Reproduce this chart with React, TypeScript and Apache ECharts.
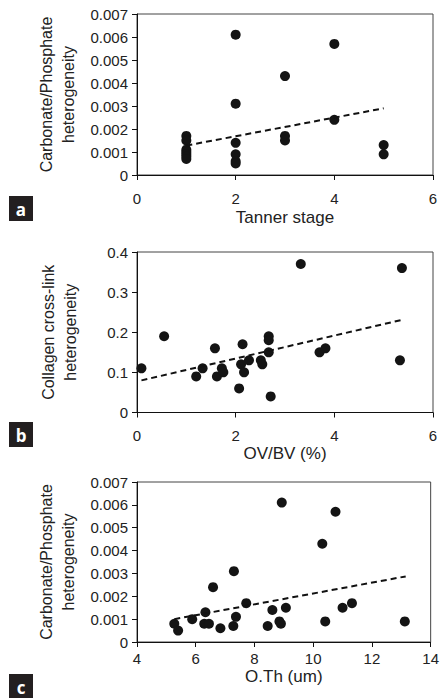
import React, { useEffect, useRef } from "react";
import * as echarts from "echarts";

// Panel a: Tanner stage vs Carbonate/Phosphate heterogeneity
const tannerStage = [1, 1, 1, 1, 1, 1, 1, 2, 2, 2, 2, 2, 2, 3, 3, 3, 4, 4, 5, 5];
const cpHetA = [
  0.0017, 0.0015, 0.0011, 0.001, 0.0009, 0.0008, 0.0007,
  0.0061, 0.0031, 0.0014, 0.0009, 0.0006, 0.0005,
  0.0043, 0.0017, 0.0015,
  0.0057, 0.0024,
  0.0013, 0.0009,
];
const trendAX = [1, 5];
const trendAY = [0.00128, 0.0029];

// Panel b: OV/BV (%) vs Collagen cross-link heterogeneity
const ovbv = [0.09, 0.55, 1.2, 1.33, 1.58, 1.62, 1.72, 1.75, 2.07, 2.11, 2.14, 2.17, 2.27, 2.51, 2.54, 2.67, 2.67, 2.67, 2.71, 3.32, 3.7, 3.82, 5.33, 5.37];
const cclHet = [0.11, 0.19, 0.09, 0.11, 0.16, 0.09, 0.11, 0.1, 0.06, 0.12, 0.17, 0.1, 0.13, 0.13, 0.12, 0.15, 0.19, 0.18, 0.04, 0.37, 0.15, 0.16, 0.13, 0.36];
const trendBX = [0.09, 5.41];
const trendBY = [0.08, 0.232];

// Panel c: O.Th (um) vs Carbonate/Phosphate heterogeneity
const oth = [5.27, 5.4, 5.88, 6.29, 6.33, 6.45, 6.59, 6.84, 7.28, 7.3, 7.37, 7.72, 8.45, 8.61, 8.85, 8.9, 8.93, 9.07, 10.31, 10.41, 10.76, 11.0, 11.32, 13.12];
const cpHetC = [0.0008, 0.0005, 0.001, 0.0008, 0.0013, 0.0008, 0.0024, 0.0006, 0.0007, 0.0031, 0.0011, 0.0017, 0.0007, 0.0014, 0.0009, 0.0008, 0.0061, 0.0015, 0.0043, 0.0009, 0.0057, 0.0015, 0.0017, 0.0009];
const trendCX = [5.27, 13.15];
const trendCY = [0.001, 0.00287];

const panelLetters = ["a", "b", "c"];
const xNames = ["Tanner stage", "OV/BV (%)", "O.Th (um)"];
const yNames = ["Carbonate/Phosphate\nheterogeneity", "Collagen cross-link\nheterogeneity", "Carbonate/Phosphate\nheterogeneity"];

const FONT = "Arial";
const TXT = "#222";

const zip = (xs: number[], ys: number[]) => xs.map((x, i) => [x, ys[i]]);

export default function App() {
  const ref = useRef<HTMLDivElement>(null);
  useEffect(() => {
    document.body.style.margin = "0";
    if (!ref.current) return;
    const chart = echarts.init(ref.current, undefined, { renderer: "svg" });

    const grids = [
      { left: 137, top: 14, width: 296, height: 161 },
      { left: 137, top: 252, width: 296, height: 160.5 },
      { left: 137, top: 482, width: 296, height: 160 },
    ].map((g) => ({ ...g, show: true, borderColor: "#444", borderWidth: 1, backgroundColor: "transparent" }));

    const xCfg = [
      { min: 0, max: 6, interval: 2, labelMargin: 16, nameGap: 32 },
      { min: 0, max: 6, interval: 2, labelMargin: 15, nameGap: 29 },
      { min: 4, max: 14, interval: 2, labelMargin: 9, nameGap: 23 },
    ];
    const yCfg = [
      { min: 0, max: 0.007, interval: 0.001, dec: 3 },
      { min: 0, max: 0.4, interval: 0.1, dec: 1 },
      { min: 0, max: 0.007, interval: 0.001, dec: 3 },
    ];

    const axisLine = { show: true, onZero: false, lineStyle: { color: "#111", width: 1 } };
    const axisTick = { show: true, inside: false, length: 5, lineStyle: { color: "#111" } };

    const xAxis = xCfg.map((c, i) => ({
      type: "value",
      gridIndex: i,
      min: c.min,
      max: c.max,
      interval: c.interval,
      axisLine,
      axisTick,
      splitLine: { show: false },
      axisLabel: { margin: c.labelMargin, fontSize: 15, color: TXT, fontFamily: FONT },
      name: xNames[i],
      nameLocation: "middle",
      nameGap: c.nameGap,
      nameTextStyle: { fontSize: 17, color: TXT, fontFamily: FONT, lineHeight: 20 },
    }));

    const yAxis = yCfg.map((c, i) => ({
      type: "value",
      gridIndex: i,
      min: c.min,
      max: c.max,
      interval: c.interval,
      axisLine,
      axisTick,
      splitLine: { show: false },
      axisLabel: {
        margin: 9,
        fontSize: 15,
        color: TXT,
        fontFamily: FONT,
        formatter: (v: number) => (v === 0 ? "0" : v.toFixed(c.dec)),
      },
      name: yNames[i],
      nameLocation: "middle",
      nameRotate: 90,
      nameGap: 56,
      nameTextStyle: { fontSize: 16, color: TXT, fontFamily: FONT, lineHeight: 22, align: "center" },
    }));

    const scatterData = [zip(tannerStage, cpHetA), zip(ovbv, cclHet), zip(oth, cpHetC)];
    const trendData = [zip(trendAX, trendAY), zip(trendBX, trendBY), zip(trendCX, trendCY)];

    const series: any[] = [];
    for (let i = 0; i < 3; i++) {
      series.push({
        type: "scatter",
        xAxisIndex: i,
        yAxisIndex: i,
        data: scatterData[i],
        symbol: "circle",
        symbolSize: 10,
        itemStyle: { color: "#141414", opacity: 1 },
        z: 3,
      });
      series.push({
        type: "line",
        xAxisIndex: i,
        yAxisIndex: i,
        data: trendData[i],
        symbol: "none",
        lineStyle: { color: "#111", width: 2, type: [6, 4] },
        z: 4,
      });
    }

    const boxTops = [196, 422, 674];
    const graphic = panelLetters.map((letter, i) => ({
      type: "group",
      left: 9,
      top: boxTops[i],
      children: [
        { type: "rect", shape: { x: 0, y: 0, width: 24, height: 25 }, style: { fill: "#231f20" } },
        {
          type: "text",
          x: 12,
          y: 13,
          style: {
            text: letter,
            fill: "#fff",
            font: "bold 17px Open Sans",
            textAlign: "center",
            textVerticalAlign: "middle",
          },
        },
      ],
    }));

    chart.setOption({
      animation: false,
      backgroundColor: "#fff",
      grid: grids,
      xAxis,
      yAxis,
      series,
      graphic,
    });
    return () => chart.dispose();
  }, []);
  return <div ref={ref} style={{ width: 442, height: 698 }} />;
}
